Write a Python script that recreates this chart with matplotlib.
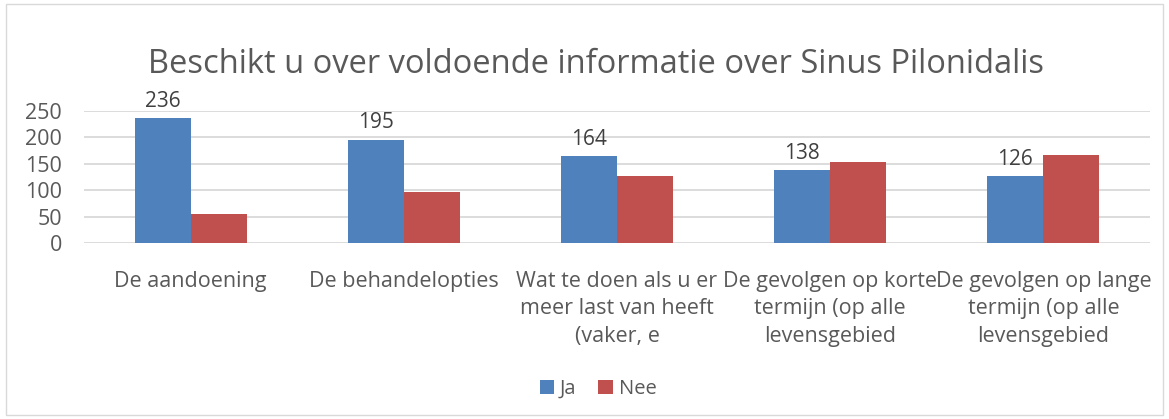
import matplotlib.pyplot as plt
import numpy as np
from matplotlib.patches import Rectangle

# datos del grafico
categorias = ["De aandoening", "De behandelopties",
              "Wat te doen als u er\nmeer last van heeft\n(vaker, e",
              "De gevolgen op korte\ntermijn (op alle\nlevensgebied",
              "De gevolgen op lange\ntermijn (op alle\nlevensgebied"]
ja = [236, 195, 164, 138, 126]
nee = [55, 97, 127, 153, 167]
yticks = [0, 50, 100, 150, 200, 250]

plt.rcParams['font.family'] = ['Open Sans', 'DejaVu Sans']
gris = '#595959'

fig = plt.figure(figsize=(11.69, 4.19), dpi=100)
ax = fig.add_axes([84/1169, 1-243/419, 1066/1169, 132.3/419])

x = np.arange(len(categorias))
w = 0.263
ax.bar(x - w/2, ja, w, color='#4F81BD', label='Ja', zorder=3)
ax.bar(x + w/2, nee, w, color='#C0504D', label='Nee', zorder=3)

# etiquetas solo para Ja
for xi, v in zip(x, ja):
    ax.text(xi - w/2, v + 12, str(v), ha='center', va='bottom', fontsize=15, color='#404040', clip_on=False)

ax.set_xlim(-0.5, len(categorias) - 0.5)
ax.set_ylim(0, 250)
ax.set_yticks(yticks)
ax.set_yticklabels([str(t) for t in yticks], fontsize=15.5, color=gris)
ax.set_xticks(x)
ax.set_xticklabels(categorias, fontsize=15.5, color=gris, linespacing=1.4, va='top')
ax.tick_params(axis='both', length=0)
ax.tick_params(axis='x', pad=20)
ax.tick_params(axis='y', pad=16)
ax.grid(axis='y', color='#d9d9d9', linewidth=1.3, zorder=0)
for s in ax.spines.values():
    s.set_visible(False)

fig.text(596/1169, 1-64/419, "Beschikt u over voldoende informatie over Sinus Pilonidalis",
         ha='center', va='center', fontsize=23.5, color=gris)

fig.legend(loc='center', bbox_to_anchor=(598/1169, 1-389/419), ncol=2, frameon=False,
           fontsize=14.5, handlelength=0.7, handleheight=0.7, handletextpad=0.3,
           columnspacing=1.1, labelcolor=gris)

# borde del grafico
fig.patches.append(Rectangle((6/1169, 4/419), 1157/1169, 411/419, transform=fig.transFigure,
                             fill=False, edgecolor='#d9d9d9', linewidth=1))

fig.savefig('out.png', dpi=100)
